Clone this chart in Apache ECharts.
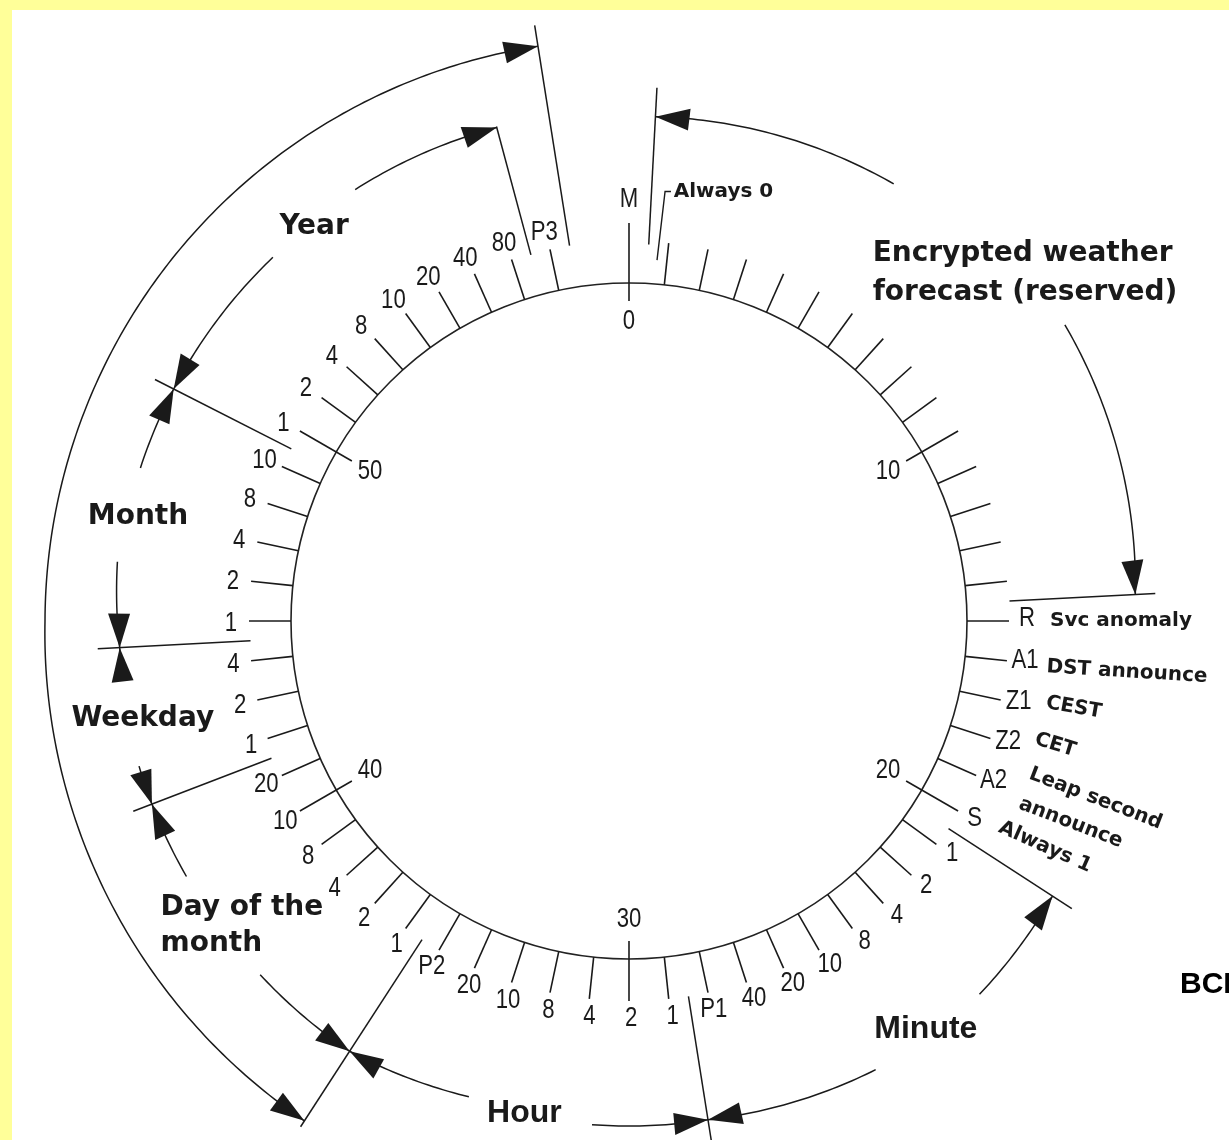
<!DOCTYPE html>
<html><head><meta charset="utf-8">
<script src="https://cdn.jsdelivr.net/npm/echarts@6/dist/echarts.min.js"></script>
<style>html,body{margin:0;padding:0;background:#fff;}#c{width:1229px;height:1140px;}</style>
</head><body><div id="c"></div><script>
// ---------------- data ----------------
const tickSeconds = [0,1,2,3,4,5,6,7,8,9,10,11,12,13,14,15,16,17,18,19,20,21,22,23,24,25,26,27,28,29,30,31,32,33,34,35,36,37,38,39,40,41,42,43,44,45,46,47,48,49,50,51,52,53,54,55,56,57,58];
const innerSeconds = [0,10,20,30,40,50];
const innerLabels = ['0','10','20','30','40','50'];
const bitSeconds = [15,16,17,18,19,20,21,22,23,24,25,26,27,28,29,30,31,32,33,34,35,36,37,38,39,40,41,42,43,44,45,46,47,48,49,50,51,52,53,54,55,56,57,58];
const bitLabels = ['R','A1','Z1','Z2','A2','S','1','2','4','8','10','20','40','P1','1','2','4','8','10','20','P2','1','2','4','8','10','20','1','2','4','1','2','4','8','10','1','2','4','8','10','20','40','80','P3'];
const noteSeconds = [15,16,17,18,19,19,20];
const noteTexts = ['Svc anomaly','DST announce','CEST','CET','Leap second','announce','Always 1'];
const sectionNames = ['Encrypted weather\nforecast (reserved)','Minute','Hour','Day of the\nmonth','Weekday','Month','Year'];
const sectionFrom = [0.5,20.5,28.5,35.5,41.5,44.5,49.5];
const sectionTo = [14.5,28.5,35.5,41.5,44.5,49.5,57.5];
const boundarySeconds = [0.5,14.5,20.5,28.5,35.5,41.5,44.5,49.5,57.5,58.5];
const dateFrom = 35.5, dateTo = 58.5;
const markerSecond = 0, markerLabel = 'M', markerNote = 'Always 0';
const sideLabel = 'BCD';

// ---------------- layout / style ----------------
const CX = 629, CY = 621, R0 = 338;
const INK = '#1a1a1a';
const NUM_FONT = '"Liberation Sans", Arial, sans-serif';
const BOLD_FONT = '"DejaVu Sans", sans-serif';
const boundaryRange = [[377,534],[381,527],[381,528],[380,540],[380,603],[383,531],[379,532],[379,532],[379,512],[380,603]];
// radius at [from, gapStart, gapEnd, to] and gap
const sectionLayout = [
  {r:[505,511,527,507], gap:[5.2,9.3]},
  {r:[505,512,512,505], gap:[22.8,25.2]},
  {r:[505,505,502,513], gap:[30.7,33.1]},
  {r:[513,511,511,511], gap:[37.7,40.0]},
  {r:[511,511,510,510], gap:[42.25,43.9]},
  {r:[510,515,512,511], gap:[46.1,47.9]},
  {r:[511,509,511,511], gap:[52.6,54.6]}
];
const sectionLabelPos = [
  {r:425, s:5.83, align:'left', font:'DJ', size:28, lh:39},
  {r:505, s:24.0, align:'center', font:'LB', size:32},
  {r:503, s:32.0, align:'center', font:'LB', size:32},
  {r:559, s:39.49, align:'left', font:'DJ', size:28, lh:36},
  {r:496, s:43.1, align:'center', font:'DJ', size:28},
  {r:502, s:47.0, align:'center', font:'DJ', size:28},
  {r:505, s:53.57, align:'center', font:'DJ', size:28}
];
const noteLayout = [
  {r:421, ds:0.0, rot:0},
  {r:420, ds:0.05, rot:3.5},
  {r:425, ds:-0.15, rot:10},
  {r:423, ds:-0.3, rot:17},
  {r:429, ds:-0.53, rot:21},
  {r:431, ds:0.17, rot:21},
  {r:424, ds:-0.16, rot:24}
];
const dateArcR = [[35.5,596],[45,584],[58.5,582]];

function lerp(a,b,t){return a+(b-a)*t;}
function arcPts(api, s0, s1, r0, r1){
  const pts=[]; const n=Math.max(2,Math.ceil(Math.abs(s1-s0)/0.1));
  for(let i=0;i<=n;i++){const t=i/n; pts.push(api.coord([lerp(r0,r1,t), lerp(s0,s1,t)]));}
  return pts;
}
function arrow(api, s, dir, r){
  const L=34, W=11;
  const ds = (L/r)*30/Math.PI*dir;
  return {type:'polygon', shape:{points:[api.coord([r,s]), api.coord([r-W,s+ds]), api.coord([r+W,s+ds])]}, style:{fill:INK}};
}
function lineEl(a,b,w){return {type:'line', shape:{x1:a[0],y1:a[1],x2:b[0],y2:b[1]}, style:{stroke:INK, lineWidth:w||1.5}};}
function numText(p, text, align, size){
  return {type:'text', x:p[0], y:p[1], scaleX:0.82, style:{text:text, fill:INK, fontFamily:NUM_FONT, fontSize:size||27, align:align||'center', verticalAlign:'middle'}};
}
const base = {type:'custom', coordinateSystem:'polar', silent:true, animation:false, clip:false};

const chart = echarts.init(document.getElementById('c'));
chart.setOption({
  backgroundColor:'#ffffff',
  animation:false,
  polar:{center:[CX,CY], radius:R0},
  angleAxis:{type:'value', min:0, max:60, startAngle:90, clockwise:true,
    axisLine:{show:true, lineStyle:{color:'#222', width:1.6}}, axisTick:{show:false}, axisLabel:{show:false}, splitLine:{show:false}},
  radiusAxis:{type:'value', min:0, max:R0, show:false, axisLine:{show:false}, axisTick:{show:false}, axisLabel:{show:false}, splitLine:{show:false}},
  graphic:[
    {type:'rect', shape:{x:0,y:0,width:1229,height:10}, style:{fill:'#ffff99'}},
    {type:'rect', shape:{x:0,y:0,width:12,height:1140}, style:{fill:'#ffff99'}},
    {type:'text', x:1180, y:985, style:{text:sideLabel, fill:'#000', fontFamily:'"Liberation Sans", Arial, sans-serif', fontWeight:'bold', fontSize:30, verticalAlign:'middle'}}
  ],
  series:[
    Object.assign({}, base, {data:tickSeconds.map(s=>[R0,s]), renderItem:function(p,api){
      const s=api.value(1); const major=s%10===0;
      const r1=major?320:R0, r2=(s===markerSecond)?398:380;
      return lineEl(api.coord([r1,s]), api.coord([r2,s]), 1.6);
    }}),
    Object.assign({}, base, {data:innerSeconds.map(s=>[R0,s]), renderItem:function(p,api){
      return numText(api.coord([299, api.value(1)]), innerLabels[p.dataIndex]);
    }}),
    Object.assign({}, base, {data:bitSeconds.map(s=>[R0,s]), renderItem:function(p,api){
      return numText(api.coord([398, api.value(1)-0.05]), bitLabels[p.dataIndex]);
    }}),
    Object.assign({}, base, {data:noteSeconds.map(s=>[R0,s]), renderItem:function(p,api){
      const L=noteLayout[p.dataIndex]; const q=api.coord([L.r, api.value(1)+L.ds]);
      return {type:'text', x:q[0], y:q[1], rotation:-L.rot*Math.PI/180, style:{text:noteTexts[p.dataIndex], fill:INK, fontFamily:BOLD_FONT, fontWeight:'bold', fontSize:20, align:'left', verticalAlign:'middle'}};
    }}),
    Object.assign({}, base, {data:boundarySeconds.map(s=>[R0,s]), renderItem:function(p,api){
      const s=api.value(1), rr=boundaryRange[p.dataIndex];
      return lineEl(api.coord([rr[0],s]), api.coord([rr[1],s]), 1.5);
    }}),
    Object.assign({}, base, {data:sectionFrom.map((s,i)=>[R0,s,sectionTo[i]]), renderItem:function(p,api){
      const a=api.value(1), b=api.value(2), L=sectionLayout[p.dataIndex];
      const ch=[];
      ch.push({type:'polyline', shape:{points:arcPts(api,a,L.gap[0],L.r[0],L.r[1])}, style:{stroke:INK, lineWidth:1.5, fill:null}});
      ch.push({type:'polyline', shape:{points:arcPts(api,L.gap[1],b,L.r[2],L.r[3])}, style:{stroke:INK, lineWidth:1.5, fill:null}});
      ch.push(arrow(api,a,1,L.r[0]));
      ch.push(arrow(api,b,-1,L.r[3]));
      return {type:'group', children:ch};
    }}),
    Object.assign({}, base, {data:sectionFrom.map(s=>[R0,s]), renderItem:function(p,api){
      const L=sectionLabelPos[p.dataIndex]; const q=api.coord([L.r,L.s]);
      const dj = L.font==='DJ';
      return {type:'text', x:q[0], y:q[1], style:{text:sectionNames[p.dataIndex], fill:INK,
        fontFamily: dj?BOLD_FONT:'"Liberation Sans", Arial, sans-serif', fontWeight:'bold', fontSize:L.size,
        lineHeight:L.lh||L.size, align:L.align, verticalAlign:'middle'}};
    }}),
    Object.assign({}, base, {data:[[R0,dateFrom,dateTo]], renderItem:function(p,api){
      const a=api.value(1), b=api.value(2);
      const ch=[];
      for(let k=0;k<dateArcR.length-1;k++){
        ch.push({type:'polyline', shape:{points:arcPts(api,dateArcR[k][0],dateArcR[k+1][0],dateArcR[k][1],dateArcR[k+1][1])}, style:{stroke:INK,lineWidth:1.5,fill:null}});
      }
      ch.push(arrow(api,a,1,dateArcR[0][1]));
      ch.push(arrow(api,b,-1,dateArcR[dateArcR.length-1][1]));
      return {type:'group', children:ch};
    }}),
    Object.assign({}, base, {data:[[R0,markerSecond]], renderItem:function(p,api){
      const s=api.value(1);
      const m=numText(api.coord([421,s]), markerLabel);
      const leader={type:'polyline', shape:{points:[api.coord([362,s+0.74]), api.coord([431,s+0.80]), api.coord([431.5,s+0.93])]}, style:{stroke:INK,lineWidth:1.4,fill:null}};
      const t=api.coord([432,s+0.99]);
      const note={type:'text', x:t[0], y:t[1], style:{text:markerNote, fill:INK, fontFamily:BOLD_FONT, fontWeight:'bold', fontSize:20, align:'left', verticalAlign:'middle'}};
      return {type:'group', children:[m, leader, note]};
    }})
  ]
});
</script></body></html>
